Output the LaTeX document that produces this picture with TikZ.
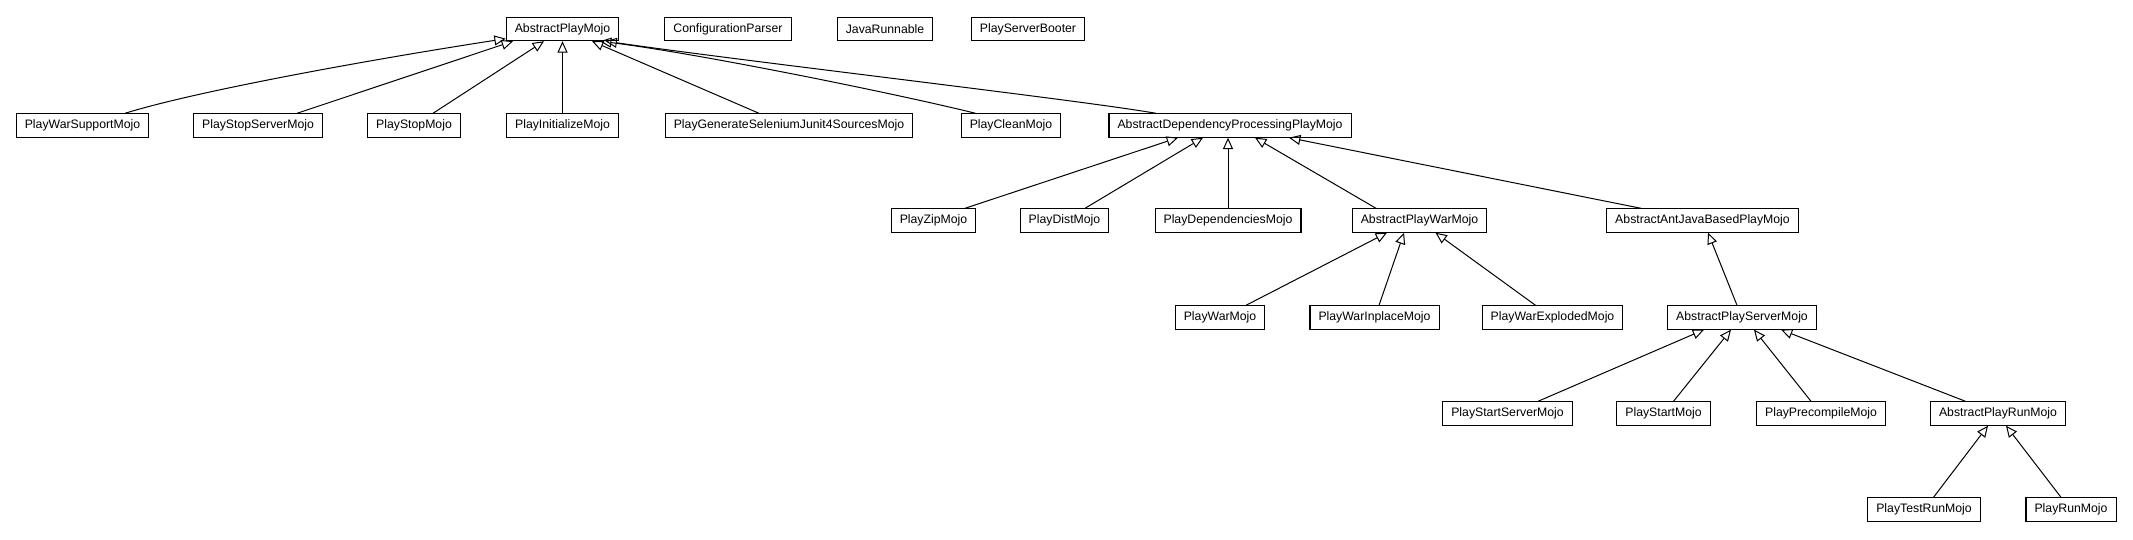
\documentclass[tikz,border=0pt]{standalone}
\usepackage{fontspec}
\setmainfont{Liberation Sans}
\usetikzlibrary{arrows.meta}

\begin{document}
\begin{tikzpicture}[x=0.75pt,y=-0.75pt,
		ClassStyle/.style={draw, rectangle, line width=0.8pt, minimum height=17.5pt, inner xsep=6.4pt, inner ysep=0pt, font=\fontsize{9.2}{11}\selectfont},
		EdgeStyle/.style={line width=0.75pt, -{Triangle[open,length=8.5pt,width=7.5pt]}}]
	\useasboundingbox (0,0) rectangle (2133,539);
		\node[ClassStyle] (APM) at (562.5,29) {AbstractPlayMojo};
		\node[ClassStyle] (CP) at (728,29) {ConfigurationParser};
		\node[ClassStyle] (JR) at (885,29) {JavaRunnable};
		\node[ClassStyle] (PSB) at (1028,29) {PlayServerBooter};
	%
		\node[ClassStyle] (PWSM) at (82.5,125.5) {PlayWarSupportMojo};
		\node[ClassStyle] (PSSM) at (258,125.5) {PlayStopServerMojo};
		\node[ClassStyle] (PSM) at (414,125.5) {PlayStopMojo};
		\node[ClassStyle] (PIM) at (562.5,125.5) {PlayInitializeMojo};
		\node[ClassStyle] (PGSM) at (789,125.5) {PlayGenerateSeleniumJunit4SourcesMojo};
		\node[ClassStyle] (PCM) at (1011,125.5) {PlayCleanMojo};
		\node[ClassStyle] (ADPM) at (1230,125.5) {AbstractDependencyProcessingPlayMojo};
	%
		\node[ClassStyle] (PZM) at (933.5,220.5) {PlayZipMojo};
		\node[ClassStyle] (PDM) at (1064.5,220.5) {PlayDistMojo};
		\node[ClassStyle] (PDeM) at (1228,220.5) {PlayDependenciesMojo};
		\node[ClassStyle] (APWM) at (1419.5,220.5) {AbstractPlayWarMojo};
		\node[ClassStyle] (AAJM) at (1702.5,220.5) {AbstractAntJavaBasedPlayMojo};
	%
		\node[ClassStyle] (PWM) at (1220,317.5) {PlayWarMojo};
		\node[ClassStyle] (PWIM) at (1374.5,317.5) {PlayWarInplaceMojo};
		\node[ClassStyle] (PWEM) at (1552.5,317.5) {PlayWarExplodedMojo};
		\node[ClassStyle] (APSM) at (1742,317.5) {AbstractPlayServerMojo};
	%
		\node[ClassStyle] (PTSM) at (1507.5,413.5) {PlayStartServerMojo};
		\node[ClassStyle] (PTM) at (1663.5,413.5) {PlayStartMojo};
		\node[ClassStyle] (PPM) at (1821,413.5) {PlayPrecompileMojo};
		\node[ClassStyle] (APRM) at (1998,413.5) {AbstractPlayRunMojo};
	%
		\node[ClassStyle] (PTRM) at (1924,509.5) {PlayTestRunMojo};
		\node[ClassStyle] (PRM) at (2071,509.5) {PlayRunMojo};
	%
		\draw[EdgeStyle] ([shift={(42.5,0)}]PWSM.north) .. controls (200,90) and (380,58) .. ([shift={(0,-2.5)}]APM.south west);
		\draw[EdgeStyle] ([shift={(39,0)}]PSSM.north) -- ([shift={(-49.5,0)}]APM.south);
		\draw[EdgeStyle] ([shift={(19,0)}]PSM.north) -- ([shift={(-18.5,0)}]APM.south);
		\draw[EdgeStyle] (PIM.north) -- (APM.south);
		\draw[EdgeStyle] ([shift={(-30,0)}]PGSM.north) -- ([shift={(29.5,0)}]APM.south);
		\draw[EdgeStyle] ([shift={(-35.5,0)}]PCM.north) .. controls (900,94.5) and (700,53.7) .. ([shift={(37.5,0)}]APM.south);
		\draw[EdgeStyle] ([shift={(-74,0)}]ADPM.north) .. controls (1080,100) and (750,62) .. ([shift={(43,0)}]APM.south);
	%
		\draw[EdgeStyle] ([shift={(31.5,0)}]PZM.north) -- ([shift={(-52,0)}]ADPM.south);
		\draw[EdgeStyle] ([shift={(20.5,0)}]PDM.north) -- ([shift={(-27,0)}]ADPM.south);
		\draw[EdgeStyle] (PDeM.north) -- (PDeM.north |- ADPM.south);
		\draw[EdgeStyle] ([shift={(-43.5,0)}]APWM.north) -- ([shift={(25,0)}]ADPM.south);
		\draw[EdgeStyle] ([shift={(-61.5,0)}]AAJM.north) -- ([shift={(59,0)}]ADPM.south);
	%
		\draw[EdgeStyle] ([shift={(26,0)}]PWM.north) -- ([shift={(-32.5,0)}]APWM.south);
		\draw[EdgeStyle] ([shift={(4.5,0)}]PWIM.north) -- ([shift={(-15.5,0)}]APWM.south);
		\draw[EdgeStyle] ([shift={(-17,0)}]PWEM.north) -- ([shift={(16,0)}]APWM.south);
		\draw[EdgeStyle] ([shift={(-5,0)}]APSM.north) -- ([shift={(5.5,0)}]AAJM.south);
	%
		\draw[EdgeStyle] ([shift={(30.5,0)}]PTSM.north) -- ([shift={(-38,0)}]APSM.south);
		\draw[EdgeStyle] ([shift={(10,0)}]PTM.north) -- ([shift={(-11,0)}]APSM.south);
		\draw[EdgeStyle] ([shift={(-10,0)}]PPM.north) -- ([shift={(12,0)}]APSM.south);
		\draw[EdgeStyle] ([shift={(-32.5,0)}]APRM.north) -- ([shift={(39,0)}]APSM.south);
	%
		\draw[EdgeStyle] ([shift={(9.5,0)}]PTRM.north) -- ([shift={(-10,0)}]APRM.south);
		\draw[EdgeStyle] ([shift={(-10,0)}]PRM.north) -- ([shift={(8,0)}]APRM.south);
	\end{tikzpicture}
\end{document}
